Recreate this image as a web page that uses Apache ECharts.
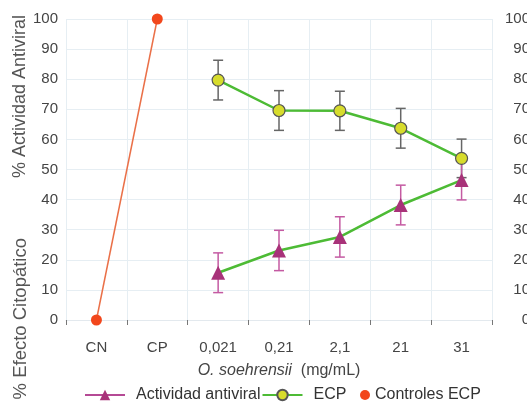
<!DOCTYPE html>
<html>
<head>
<meta charset="utf-8">
<script src="https://cdn.jsdelivr.net/npm/echarts@6/dist/echarts.min.js"></script>
<style>
  html, body { margin: 0; padding: 0; background: #fff; }
  #chart { width: 527px; height: 403px; }
</style>
</head>
<body>
<div id="chart"></div>
<script>
// categorias del eje x
var categories = ['CN', 'CP', '0,021', '0,21', '2,1', '21', '31'];
var yTicks = [0, 10, 20, 30, 40, 50, 60, 70, 80, 90, 100];
// controles (CN, CP)
var controls = [0, 100, '-', '-', '-', '-', '-'];
// % efecto citopatico
var ecp = ['-', '-', 79.7, 69.6, 69.5, 63.7, 53.7];
var ecpSd = [0, 0, 6.6, 6.6, 6.5, 6.6, 6.4];
// % actividad antiviral
var antiviral = ['-', '-', 15.7, 23.1, 27.6, 38.2, 46.5];
var antiviralSd = [0, 0, 6.6, 6.7, 6.7, 6.6, 6.6];

function errData(vals, sd) {
    var out = [];
    for (var i = 0; i < vals.length; i++) {
        if (vals[i] === '-') continue;
        out.push([i, vals[i] - sd[i], vals[i] + sd[i]]);
    }
    return out;
}

function errBar(color) {
    return function (params, api) {
        var lo = api.coord([api.value(0), api.value(1)]);
        var hi = api.coord([api.value(0), api.value(2)]);
        var w = 5;
        var st = { stroke: color, lineWidth: 1.5 };
        return {
            type: 'group',
            children: [
                { type: 'line', shape: { x1: hi[0], y1: hi[1], x2: lo[0], y2: lo[1] }, style: st },
                { type: 'line', shape: { x1: hi[0] - w, y1: hi[1], x2: hi[0] + w, y2: hi[1] }, style: st },
                { type: 'line', shape: { x1: lo[0] - w, y1: lo[1], x2: lo[0] + w, y2: lo[1] }, style: st }
            ]
        };
    };
}

var myChart = echarts.init(document.getElementById('chart'));
var font = 'Liberation Sans, Arial, sans-serif';
var option = {
    animation: false,
    textStyle: { fontFamily: font },
    grid: { left: 66, right: 35, top: 19, bottom: 83, outerBoundsMode: 'none', containLabel: false },
    legend: [{
        bottom: -5,
        left: 79,
        itemWidth: 40,
        itemHeight: 13,
        itemGap: 1,
        textStyle: { fontSize: 16, color: '#333', fontFamily: font, padding: [0, 0, 0, 6] },
        data: [
            { name: 'Actividad antiviral', lineStyle: { color: '#b54a95', width: 2 } },
            { name: 'ECP' }
        ]
    }, {
        bottom: -5,
        left: 355,
        itemWidth: 10,
        itemHeight: 10,
        textStyle: { fontSize: 16, color: '#333', fontFamily: font },
        data: [{ name: 'Controles ECP', icon: 'circle', itemStyle: { color: '#f2471c' } }]
    }],
    graphic: [
        { type: 'text', left: 11, top: 15, rotation: Math.PI / 2,
          style: { text: '% Actividad Antiviral', fontSize: 18, fill: '#555', fontFamily: font } },
        { type: 'text', left: 11, top: 238, rotation: Math.PI / 2,
          style: { text: '% Efecto Citopático', fontSize: 18.5, fill: '#555', fontFamily: font } }
    ],
    xAxis: {
        type: 'category',
        data: categories,
        name: '{i|O. soehrensii}  (mg/mL)',
        nameLocation: 'middle',
        nameGap: 43,
        nameTextStyle: {
            fontSize: 16, color: '#444',
            rich: { i: { fontStyle: 'italic', fontSize: 16, color: '#444' } }
        },
        axisLine: { lineStyle: { color: '#e3e9ee' } },
        axisTick: { show: true, length: 5, lineStyle: { color: '#777' } },
        axisLabel: { fontSize: 15, color: '#444', margin: 20 },
        splitLine: { show: true, lineStyle: { color: '#e6eef3' } }
    },
    yAxis: [{
        type: 'value',
        min: yTicks[0],
        max: yTicks[yTicks.length - 1],
        interval: 10,
        axisLine: { show: false },
        axisTick: { show: false },
        axisLabel: { fontSize: 15, color: '#444', margin: 8 },
        splitLine: { lineStyle: { color: '#e6eef3' } }
    }, {
        type: 'value',
        position: 'right',
        min: yTicks[0],
        max: yTicks[yTicks.length - 1],
        interval: 10,
        axisLine: { show: false },
        axisTick: { show: false },
        axisLabel: { fontSize: 15, color: '#444', align: 'right', margin: 38 },
        splitLine: { show: false }
    }],
    series: [{
        name: 'ecpErr',
        type: 'custom',
        renderItem: errBar('#666'),
        data: errData(ecp, ecpSd),
        z: 1
    }, {
        name: 'avErr',
        type: 'custom',
        renderItem: errBar('#c45aa2'),
        data: errData(antiviral, antiviralSd),
        z: 1
    }, {
        name: 'Controles ECP',
        type: 'line',
        data: controls,
        symbol: 'circle',
        symbolSize: 11,
        lineStyle: { color: '#ea7048', width: 1.5 },
        itemStyle: { color: '#f2471c' },
        z: 3
    }, {
        name: 'Actividad antiviral',
        type: 'line',
        data: antiviral,
        symbol: 'triangle',
        symbolSize: 14,
        lineStyle: { color: '#4dbb35', width: 2.5 },
        itemStyle: { color: '#a83279' },
        z: 3
    }, {
        name: 'ECP',
        type: 'line',
        data: ecp,
        symbol: 'circle',
        symbolSize: 12,
        lineStyle: { color: '#4dbb35', width: 2.5 },
        itemStyle: { color: '#d7dc2c', borderColor: '#555', borderWidth: 1.2 },
        z: 4
    }]
};
myChart.setOption(option);
</script>
</body>
</html>
